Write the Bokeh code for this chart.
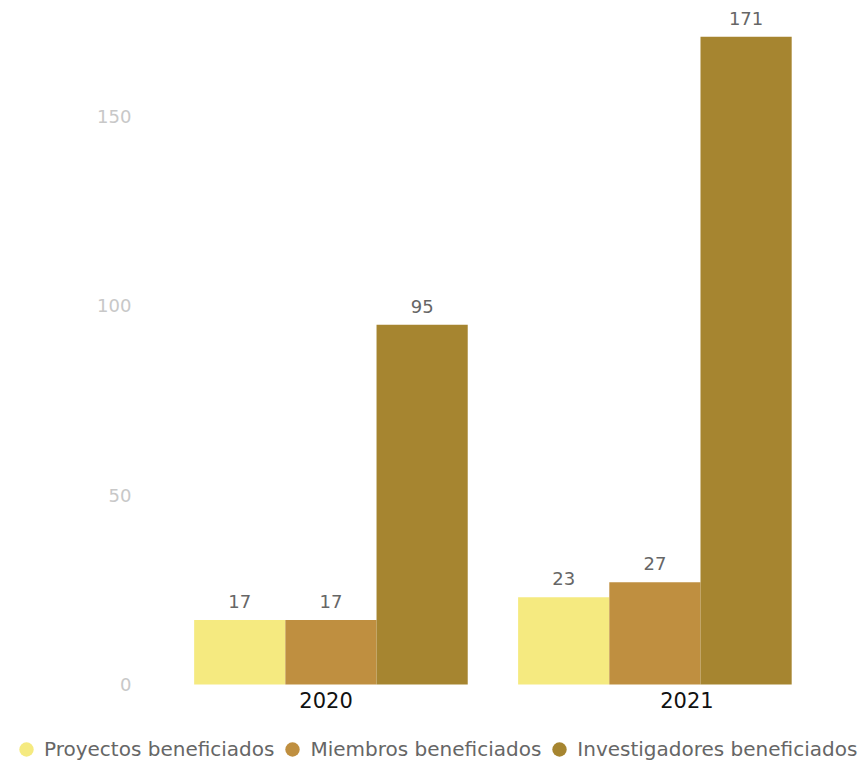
from bokeh.plotting import figure
from bokeh.models import ColumnDataSource, Legend, LegendItem, FixedTicker, Range1d
from bokeh.core.properties import value
from bokeh.embed import file_html
from bokeh.resources import INLINE

years = ["2020", "2021"]
series = ["Proyectos beneficiados", "Miembros beneficiados", "Investigadores beneficiados"]
proyectos = [17, 23]
miembros = [17, 27]
investigadores = [95, 171]
colors = ["#F5EA80", "#BF8F40", "#A68530"]
y_ticks = [0, 50, 100, 150]

FONT = "DejaVu Sans"
p = figure(width=864, height=762, output_backend="svg", toolbar_location=None,
           x_range=Range1d(-1.020, 1.647), y_range=Range1d(-20.6, 180.6),
           min_border=0)
p.outline_line_color = None
p.xgrid.visible = False
p.ygrid.visible = False

bw = 0.2815
offsets = [-bw, 0.0, bw]
values = [proyectos, miembros, investigadores]
xs_base = list(range(len(years)))
legend_items = []
for i, (name, vals, col) in enumerate(zip(series, values, colors)):
    xs = [x + offsets[i] for x in xs_base]
    src = ColumnDataSource(dict(x=xs, top=vals, lbl=[str(v) for v in vals]))
    p.vbar(x="x", top="top", width=bw, source=src, fill_color=col, line_color=None)
    p.text(x="x", y="top", text="lbl", source=src, text_align="center", text_baseline="bottom",
           y_offset=-12, text_color="#666666", text_font=value(FONT), text_font_size="18px")
    proxy = p.scatter(x="x", y="top", source=src, marker="circle", fill_color=col,
                      line_color=None, visible=False)
    legend_items.append(LegendItem(label=name, renderers=[proxy]))

p.yaxis.fixed_location = -0.588
p.yaxis.ticker = FixedTicker(ticks=y_ticks)
p.yaxis.axis_line_color = None
p.yaxis.major_tick_line_color = None
p.yaxis.minor_tick_line_color = None
p.yaxis.major_tick_out = 0
p.yaxis.major_tick_in = 0
p.yaxis.major_label_text_color = "#C8C8C8"
p.yaxis.major_label_text_font = FONT
p.yaxis.major_label_text_font_size = "18px"
p.yaxis.major_label_standoff = 9

# category label positions as placed in the reference (slightly off the group centres)
label_shift = [-0.015, 0.099]
tick_pos = [x + s for x, s in zip(xs_base, label_shift)]
p.xaxis.fixed_location = 0
p.xaxis.ticker = FixedTicker(ticks=tick_pos)
p.xaxis.major_label_overrides = {t: y for t, y in zip(tick_pos, years)}
p.xaxis.axis_line_color = None
p.xaxis.major_tick_line_color = None
p.xaxis.minor_tick_line_color = None
p.xaxis.major_tick_out = 0
p.xaxis.major_tick_in = 0
p.xaxis.major_label_text_color = "#111111"
p.xaxis.major_label_text_font = FONT
p.xaxis.major_label_text_font_size = "21px"
p.xaxis.major_label_standoff = 8

legend = Legend(items=legend_items, orientation="horizontal", location=(8, -5),
                glyph_width=36, glyph_height=36, label_standoff=0, spacing=0,
                padding=0, margin=0, border_line_color=None, background_fill_alpha=0,
                label_text_color="#666666", label_text_font=FONT, label_text_font_size="20px")
p.add_layout(legend, "center")

open("out.html", "w").write(file_html(p, INLINE))
